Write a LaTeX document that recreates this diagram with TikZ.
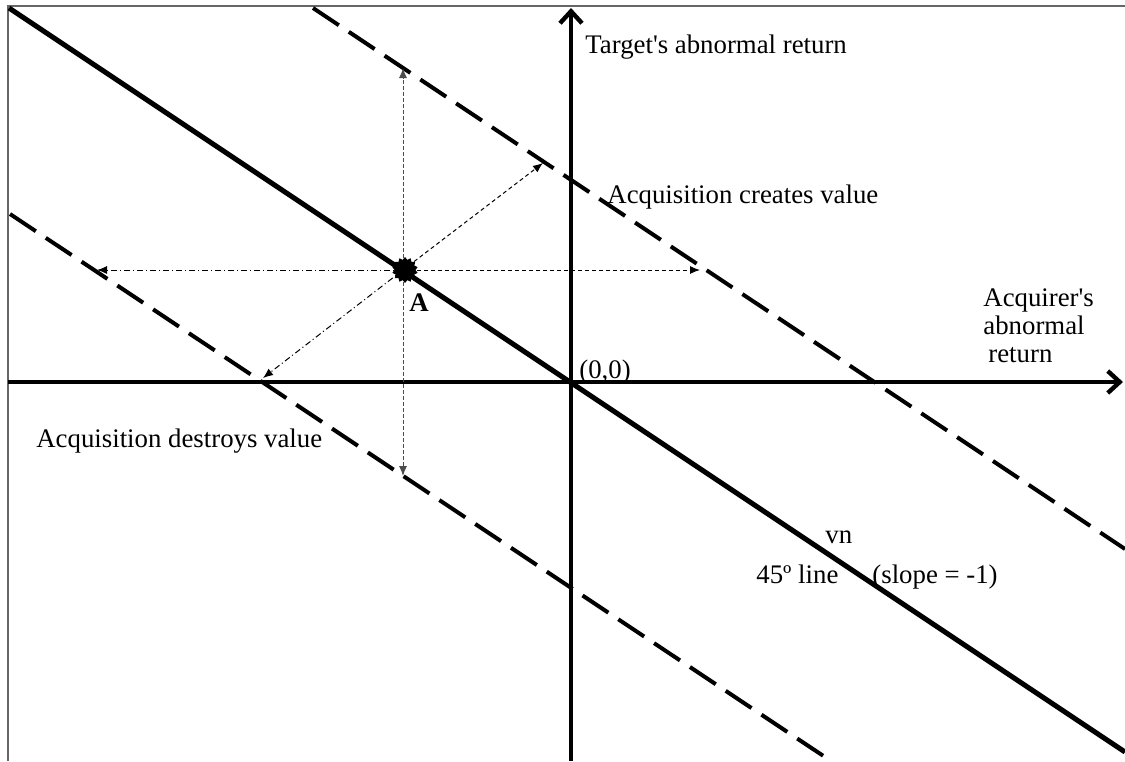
\documentclass[tikz,border=0pt]{standalone}
\usepackage{fontspec}
\setmainfont{Liberation Serif}
\usetikzlibrary{arrows.meta,shapes.geometric}
\begin{document}
\begin{tikzpicture}[x=0.5pt,y=-0.5pt,
  txt/.style={inner sep=0pt, font=\fontsize{13.4}{16}\selectfont},
  axis/.style={line width=2.2pt, -{Straight Barb[length=6pt,width=11pt]}},
  mainline/.style={line width=2.5pt},
  valline/.style={line width=2pt, dash pattern=on 15.5pt off 6pt},
  thinarrow/.style={line width=0.5pt, -{Latex[length=5pt,width=4pt]}},
  framecol/.style={draw=black!60, line width=0.8pt}
]
\useasboundingbox (0,0) rectangle (1125,761);
% frame
\coordinate (fbl) at (8,761);
\coordinate (ftl) at (8,6);
\coordinate (ftr) at (1125,6);
\draw[framecol] (fbl) -- (ftl) -- (ftr);
% axes
\coordinate (O) at (571,382);
\coordinate (xl) at (8,382);
\coordinate (xr) at (1123,382);
\coordinate (yb) at (571,761);
\coordinate (yt) at (571,8);
\draw[axis] (xl) -- (xr);
\draw[axis] (yb) -- (yt);
% 45 degree line
\coordinate (m1) at (9,8);
\coordinate (m2) at (1125,752);
\draw[mainline] (m1) -- (m2);
% value lines
\coordinate (u1) at (313,8);
\coordinate (u2) at (1125,549);
\draw[valline] (u1) -- (u2);
\coordinate (d1) at (10,214);
\coordinate (d2) at (831,761);
\draw[valline] (d1) -- (d2);
% point A
\coordinate (A) at (403,270);
\coordinate (aU) at (403,68);
\coordinate (aD) at (403,476);
\coordinate (aR) at (700,270);
\coordinate (aL) at (97,270);
\coordinate (aUR) at (543,163);
\coordinate (aDL) at (263,378);
\draw[thinarrow, draw=black!70, dash pattern=on 2pt off 1pt] (A) -- (aU);
\draw[thinarrow, draw=black!70, dash pattern=on 2pt off 1pt] (A) -- (aD);
\draw[thinarrow, dash pattern=on 2pt off 1.5pt] (A) -- (aR);
\draw[thinarrow, dash pattern=on 3pt off 1.5pt on 0.5pt off 1.5pt] (A) -- (aL);
\draw[thinarrow, dash pattern=on 2pt off 1.5pt] (A) -- (aUR);
\draw[thinarrow, dash pattern=on 3pt off 1.5pt on 0.5pt off 1.5pt] (A) -- (aDL);
\node[star, star points=14, star point ratio=1.25, fill=black, draw=none, minimum size=13pt, inner sep=0pt] (blob) at (405,270) {};
% labels
\node[txt, anchor=base west] (tY) at (585,53) {Target\textquotesingle s abnormal return};
\node[txt, anchor=base west] (tC) at (607,203) {Acquisition creates value};
\node[txt, anchor=base west] (tX1) at (983,306) {Acquirer\textquotesingle s};
\node[txt, anchor=base west] (tX2) at (983,334) {abnormal};
\node[txt, anchor=base west] (tX3) at (988,362) {return};
\node[txt, anchor=base west] (tO) at (579,378) {(0,0)};
\node[txt, anchor=base west, font=\fontsize{13.4}{16}\selectfont\bfseries] (tA) at (409,311) {A};
\node[txt, anchor=base west] (tD) at (36,447) {Acquisition destroys value};
\node[txt, anchor=base west] (tvn) at (825,543) {vn};
\node[txt, anchor=base west] (t45) at (756,583) {45º line};
\node[txt, anchor=base west] (tS) at (872,583) {(slope = -1)};
\end{tikzpicture}
\end{document}
